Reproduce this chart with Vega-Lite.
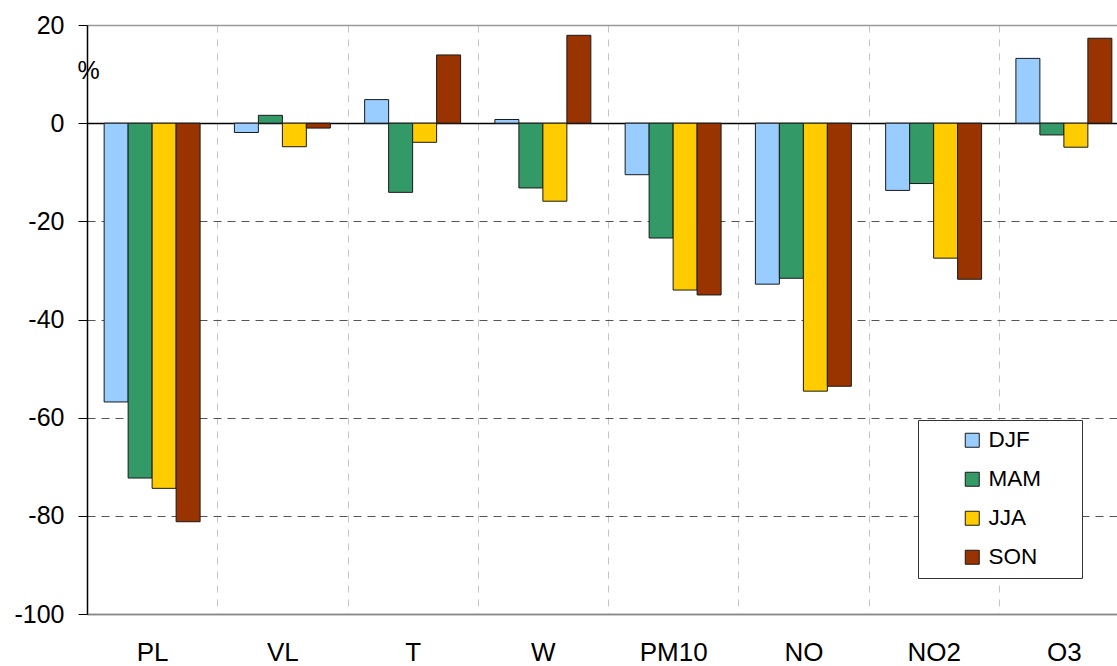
{
  "$schema": "https://vega.github.io/schema/vega-lite/v6.json",
  "width": 1030,
  "height": 589,
  "autosize": "none",
  "padding": {"left": 87, "top": 25, "right": 0, "bottom": 52},
  "background": "white",
  "data": {
    "values": [
      {"var": "PL", "season": "DJF", "value": -56.8},
      {"var": "PL", "season": "MAM", "value": -72.3},
      {"var": "PL", "season": "JJA", "value": -74.4},
      {"var": "PL", "season": "SON", "value": -81.2},
      {"var": "VL", "season": "DJF", "value": -1.9},
      {"var": "VL", "season": "MAM", "value": 1.6},
      {"var": "VL", "season": "JJA", "value": -4.8},
      {"var": "VL", "season": "SON", "value": -1.0},
      {"var": "T", "season": "DJF", "value": 4.8},
      {"var": "T", "season": "MAM", "value": -14.1},
      {"var": "T", "season": "JJA", "value": -3.9},
      {"var": "T", "season": "SON", "value": 13.9},
      {"var": "W", "season": "DJF", "value": 0.75},
      {"var": "W", "season": "MAM", "value": -13.2},
      {"var": "W", "season": "JJA", "value": -15.9},
      {"var": "W", "season": "SON", "value": 17.9},
      {"var": "PM10", "season": "DJF", "value": -10.5},
      {"var": "PM10", "season": "MAM", "value": -23.4},
      {"var": "PM10", "season": "JJA", "value": -34.0},
      {"var": "PM10", "season": "SON", "value": -35.0},
      {"var": "NO", "season": "DJF", "value": -32.8},
      {"var": "NO", "season": "MAM", "value": -31.6},
      {"var": "NO", "season": "JJA", "value": -54.6},
      {"var": "NO", "season": "SON", "value": -53.6},
      {"var": "NO2", "season": "DJF", "value": -13.7},
      {"var": "NO2", "season": "MAM", "value": -12.3},
      {"var": "NO2", "season": "JJA", "value": -27.5},
      {"var": "NO2", "season": "SON", "value": -31.8},
      {"var": "O3", "season": "DJF", "value": 13.2},
      {"var": "O3", "season": "MAM", "value": -2.4},
      {"var": "O3", "season": "JJA", "value": -4.9},
      {"var": "O3", "season": "SON", "value": 17.3}
    ]
  },
  "mark": {"type": "bar", "stroke": "#1a1a1a", "strokeWidth": 1},
  "encoding": {
    "x": {
      "field": "var",
      "type": "nominal",
      "sort": ["PL", "VL", "T", "W", "PM10", "NO", "NO2", "O3"],
      "scale": {"range": [0, 1042], "paddingInner": 0, "paddingOuter": 0},
      "axis": {
        "title": null,
        "labelAngle": 0,
        "labelFontSize": 26,
        "labelFont": "Liberation Sans",
        "labelColor": "black",
        "labelPadding": 25,
        "labelDx": -4,
        "ticks": false,
        "tickBand": "extent",
        "domain": true,
        "domainColor": "#888888",
        "domainWidth": 1.5,
        "grid": true,
        "gridColor": "#c4c4c4",
        "gridDash": [7, 7],
        "gridWidth": 1
      }
    },
    "xOffset": {
      "field": "season",
      "type": "nominal",
      "sort": ["DJF", "MAM", "JJA", "SON"],
      "scale": {"paddingInner": 0, "paddingOuter": 0.715}
    },
    "y": {
      "field": "value",
      "type": "quantitative",
      "scale": {"domain": [-100, 20], "nice": false, "zero": false},
      "axis": {
        "values": [-100, -80, -60, -40, -20, 0, 20],
        "labelExpr": "datum.value < 0 ? '-' + abs(datum.value) : '' + datum.value",
        "title": "%",
        "titleAngle": 0,
        "titleFontSize": 25,
        "titleFont": "Liberation Sans",
        "titleFontWeight": "normal",
        "titleColor": "black",
        "titleX": 1,
        "titleY": 45,
        "titleAlign": "center",
        "titleBaseline": "middle",
        "labelFontSize": 25,
        "labelFont": "Liberation Sans",
        "labelColor": "black",
        "labelPadding": 14,
        "tickSize": 9,
        "tickColor": "black",
        "domainColor": "black",
        "domainWidth": 1.5,
        "grid": true,
        "gridColor": {
          "condition": [
            {"test": "datum.value == 0", "value": "black"},
            {"test": "datum.value == 20 || datum.value == -100", "value": "#999999"}
          ],
          "value": "#555555"
        },
        "gridDash": {
          "condition": {"test": "datum.value == 0 || datum.value == 20 || datum.value == -100", "value": []},
          "value": [8, 6]
        },
        "gridWidth": {
          "condition": {"test": "datum.value == 0 || datum.value == 20 || datum.value == -100", "value": 1.5},
          "value": 1
        }
      }
    },
    "color": {
      "field": "season",
      "type": "nominal",
      "sort": ["DJF", "MAM", "JJA", "SON"],
      "scale": {
        "domain": ["DJF", "MAM", "JJA", "SON"],
        "range": ["#99CCFF", "#339966", "#FFCC00", "#993300"]
      },
      "legend": {
        "title": "\u00a0",
        "titleOrient": "right",
        "titlePadding": 32,
        "titleFontSize": 10,
        "orient": "none",
        "legendX": 831,
        "legendY": 395,
        "symbolType": "square",
        "symbolSize": 196,
        "symbolStrokeColor": "#1a1a1a",
        "symbolStrokeWidth": 1,
        "symbolOpacity": 1,
        "symbolOffset": 34,
        "labelFontSize": 22.5,
        "labelFont": "Liberation Sans",
        "labelColor": "black",
        "labelOffset": 5,
        "rowPadding": 16,
        "padding": 9,
        "strokeColor": "#333333",
        "fillColor": "white"
      }
    }
  },
  "config": {
    "view": {"stroke": null},
    "axis": {"gridOpacity": 1}
  }
}
